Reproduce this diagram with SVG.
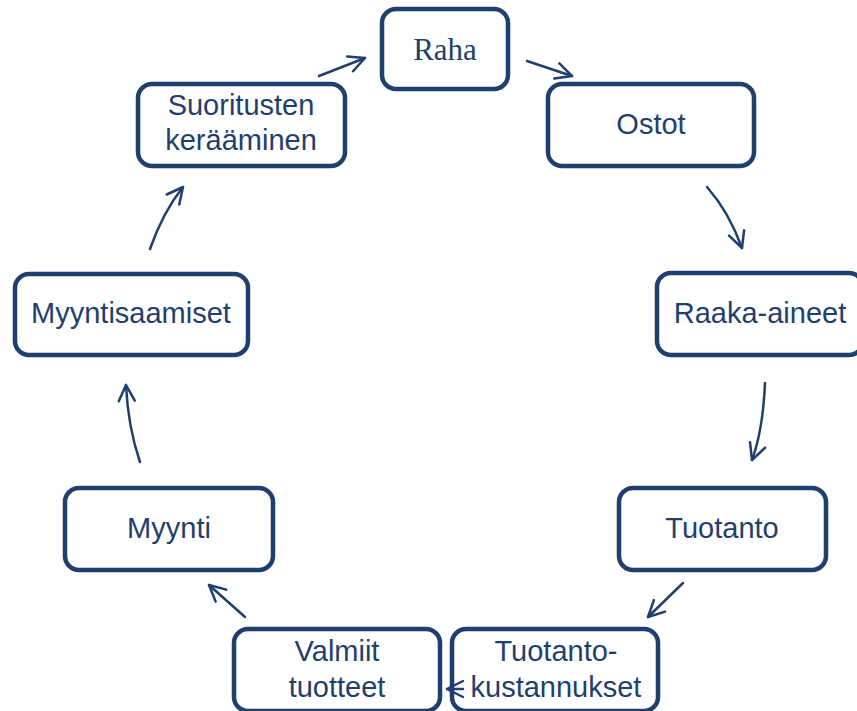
<svg xmlns="http://www.w3.org/2000/svg" width="857" height="711" viewBox="0 0 857 711">
<style>
.box{fill:#fff;stroke:#1F3F6E;stroke-width:4.5}
.t{font-family:"Liberation Sans",Arial,sans-serif;font-size:29px;fill:#1F3F6E;text-anchor:middle}
.s{font-family:"Liberation Serif","Times New Roman",serif;font-size:31px;fill:#1F3F6E;text-anchor:middle}
.c{fill:none;stroke:#1F3F6E;stroke-width:2.5;stroke-linecap:round;marker-end:url(#ah)}
</style>
<defs>
<marker id="ah" markerUnits="userSpaceOnUse" markerWidth="40" markerHeight="40" refX="0" refY="0" viewBox="-20 -20 40 40" orient="auto" overflow="visible">
<path d="M-16,-8 L0,0 L-16,8" fill="none" stroke="#1F3F6E" stroke-width="2.5" stroke-linecap="round" stroke-linejoin="round"/>
</marker>
</defs>
<rect width="857" height="711" fill="#fff"/>
<g id="raha"><rect class="box" x="382" y="9" width="126" height="80" rx="14"/><text class="s" x="445" y="60">Raha</text></g>
<g id="ostot"><rect class="box" x="548" y="84" width="206" height="82" rx="14"/><text class="t" x="651" y="134">Ostot</text></g>
<g id="raaka-aineet"><rect class="box" x="657" y="273" width="206" height="82" rx="14"/><text class="t" x="760" y="323">Raaka-aineet</text></g>
<g id="tuotanto"><rect class="box" x="619" y="488" width="207" height="82" rx="14"/><text class="t" x="722" y="538">Tuotanto</text></g>
<g id="tuotantokustannukset"><rect class="box" x="452" y="629" width="206" height="82" rx="14"/><text class="t" x="556" y="661">Tuotanto-</text><text class="t" x="556" y="697">kustannukset</text></g>
<g id="valmiit-tuotteet"><rect class="box" x="234" y="629" width="206" height="82" rx="14"/><text class="t" x="337" y="661">Valmiit</text><text class="t" x="337" y="697">tuotteet</text></g>
<g id="myynti"><rect class="box" x="65" y="488" width="208" height="82" rx="14"/><text class="t" x="169" y="538">Myynti</text></g>
<g id="myyntisaamiset"><rect class="box" x="15" y="274" width="233" height="81" rx="14"/><text class="t" x="131" y="323">Myyntisaamiset</text></g>
<g id="suoritusten"><rect class="box" x="138" y="84" width="207" height="82" rx="14"/><text class="t" x="241" y="115">Suoritusten</text><text class="t" x="241" y="150">kerääminen</text></g>
<g id="connectors">
<path class="c" d="M527,61 L572,76"/>
<path class="c" d="M707,187 Q729,212 742,248"/>
<path class="c" d="M765,383 Q763,430 752,460"/>
<path class="c" d="M683,583 L648,617"/>
<path class="c" d="M463,689 L447,689"/>
<path class="c" d="M245,617 L209,585"/>
<path class="c" d="M140,462 Q128,427 126,385"/>
<path class="c" d="M150,249 Q163,212 183,187"/>
<path class="c" d="M319,76 L365,58"/>
</g>
</svg>
